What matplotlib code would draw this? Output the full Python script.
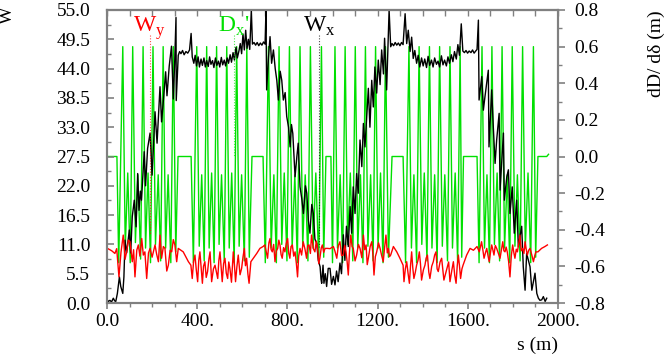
import matplotlib
matplotlib.use('Agg')
import matplotlib.pyplot as plt
from matplotlib.ticker import FixedLocator, FixedFormatter, NullFormatter

plt.rcParams['font.family'] = ['Liberation Serif', 'DejaVu Serif']
plt.rcParams['mathtext.fontset'] = 'custom'
plt.rcParams['mathtext.rm'] = 'Liberation Serif'
plt.rcParams['axes.unicode_minus'] = False

# ---- data ----
# W_x (black), left axis
s_wx = [0, 6, 13, 20, 28, 34, 39, 46, 55, 61, 70, 75, 80, 87, 99, 105, 112, 121, 129, 136,
        142, 148, 153, 165, 171, 180, 191, 200, 213, 222, 235, 242, 251, 260, 266, 276, 286, 294, 300, 306,
        307, 316, 322, 328, 335, 342, 350, 358, 366, 373, 378, 385, 391, 397, 404, 410, 417, 423, 430, 436,
        442, 449, 455, 461, 468, 474, 481, 487, 494, 500, 507, 513, 520, 526, 533, 539, 546, 552, 559, 565,
        572, 578, 585, 591, 597, 603, 609, 615, 621, 627, 633, 640, 645, 652, 659, 666, 673, 680, 687, 694,
        701, 705, 708, 716, 723, 730, 738, 746, 753, 760, 768, 775, 782, 790, 797, 805, 812, 818, 824, 834,
        842, 848, 856, 864, 871, 880, 886, 893, 900, 908, 915, 922, 930, 937, 945, 949, 952, 958, 962, 968,
        974, 981, 989, 996, 1004, 1011, 1018, 1025, 1033, 1040, 1048, 1055, 1062, 1070, 1078, 1085, 1092, 1100, 1107, 1114,
        1122, 1130, 1137, 1144, 1152, 1159, 1166, 1174, 1181, 1188, 1196, 1203, 1211, 1218, 1226, 1231, 1240, 1251, 1258, 1264,
        1271, 1278, 1285, 1292, 1299, 1306, 1313, 1322, 1329, 1336, 1344, 1351, 1358, 1365, 1373, 1380, 1387, 1395, 1402, 1409,
        1417, 1424, 1431, 1439, 1446, 1453, 1461, 1468, 1475, 1483, 1490, 1497, 1505, 1512, 1519, 1527, 1534, 1541, 1549, 1556,
        1563, 1571, 1578, 1585, 1592, 1599, 1606, 1614, 1621, 1628, 1635, 1641, 1647, 1650, 1662, 1669, 1676, 1691, 1694, 1706,
        1713, 1721, 1728, 1739, 1743, 1758, 1762, 1773, 1780, 1787, 1797, 1806, 1817, 1824, 1839, 1846, 1854, 1861, 1876, 1884,
        1898, 1906, 1913, 1920, 1928, 1935, 1943, 1950]
wx = [0.6, 0.3, 0.5, 0.2, 0.9, 0.4, 0.3, 1.8, 4.9, 3.1, 1.8, 4.9, 11.8, 9.4, 13.7, 9.4, 16.2, 19.3, 14.3, 24.3,
      17.4, 21.0, 19.3, 28.4, 22.0, 29.0, 31.9, 24.0, 35.9, 30.0, 40.6, 34.0, 38.5, 43.4, 38.9, 44.5, 48.2, 38.3, 45.0, 53.6,
      38.0, 46.5, 47.2, 46.8, 47.4, 46.6, 47.2, 46.9, 47.5, 50.6, 46.2, 45.0, 46.5, 44.5, 46.2, 44.3, 45.8, 44.6, 46.0, 44.3,
      45.5, 44.4, 46.2, 44.8, 45.5, 44.2, 46.0, 44.6, 45.4, 44.3, 46.1, 44.7, 45.6, 44.5, 46.0, 45.0, 46.6, 45.2, 47.0, 45.6,
      48.0, 46.0, 47.3, 48.7, 46.8, 50.5, 47.5, 51.2, 47.8, 49.5, 47.6, 55.0, 48.6, 48.9, 48.4, 48.9, 48.3, 48.8, 48.4, 49.0,
      48.6, 55.0, 40.0, 46.0, 50.0, 45.0, 47.5, 44.0, 41.8, 38.1, 43.5, 41.8, 38.1, 39.5, 35.0, 33.0, 29.3, 33.5, 31.8, 23.7,
      27.5, 30.0, 21.8, 19.5, 16.8, 22.0, 20.6, 15.5, 13.1, 18.5, 16.8, 12.0, 11.2, 8.0, 6.8, 4.5, 3.7, 7.1, 3.7, 5.5,
      3.1, 6.5, 6.5, 3.5, 5.0, 3.4, 6.0, 4.0, 7.5, 5.5, 12.8, 8.0, 14.4, 10.6, 18.1, 13.1, 21.8, 16.8, 24.3, 20.6,
      30.6, 25.6, 33.7, 29.3, 35.0, 40.3, 33.0, 41.8, 36.8, 44.3, 39.4, 45.6, 41.0, 47.5, 43.0, 49.7, 40.0, 55.0, 48.1, 48.7,
      48.3, 48.9, 48.4, 48.8, 48.3, 48.9, 48.5, 54.3, 48.7, 51.2, 47.2, 49.9, 45.9, 47.4, 45.0, 46.5, 44.3, 46.0, 44.5, 45.8,
      44.2, 46.3, 44.6, 45.6, 44.3, 46.0, 44.8, 45.4, 44.3, 46.4, 44.7, 45.6, 44.5, 46.2, 45.0, 46.6, 45.3, 47.2, 45.8, 48.5,
      46.5, 52.4, 47.3, 47.0, 47.4, 46.9, 47.3, 47.0, 47.5, 46.9, 47.3, 47.6, 53.1, 38.1, 42.5, 36.2, 38.7, 43.7, 29.3, 40.0,
      33.1, 26.2, 30.6, 35.6, 21.2, 31.9, 19.3, 23.7, 25.0, 16.8, 21.8, 13.1, 19.3, 10.6, 14.4, 6.8, 2.4, 9.3, 6.8, 2.4,
      5.6, 1.8, 0.9, 0.5, 0.6, 1.2, 0.3, 0.9]

# W_y (red), left axis
s_wy = [0, 21, 35, 43, 53, 62, 72, 80, 87, 95, 102, 112, 118, 124, 132, 139, 146, 154, 161, 168,
        176, 184, 191, 200, 213, 220, 228, 235, 242, 250, 257, 265, 272, 280, 287, 294, 301, 309, 316, 338,
        361, 372, 378, 384, 390, 396, 402, 407, 412, 418, 423, 428, 434, 440, 446, 452, 457, 464, 472, 479,
        485, 491, 496, 501, 506, 511, 517, 523, 529, 535, 540, 545, 552, 560, 565, 570, 576, 582, 590, 597,
        603, 609, 614, 619, 625, 630, 638, 649, 664, 678, 692, 700, 706, 712, 718, 723, 728, 733, 739, 745,
        751, 757, 762, 767, 772, 777, 783, 789, 795, 801, 806, 811, 816, 822, 828, 834, 840, 845, 850, 856,
        863, 870, 878, 885, 890, 896, 902, 907, 915, 922, 928, 934, 939, 944, 950, 955, 961, 967, 978, 989,
        1004, 1011, 1019, 1026, 1033, 1040, 1048, 1054, 1060, 1065, 1070, 1075, 1081, 1087, 1092, 1100, 1107, 1115, 1122, 1130,
        1137, 1143, 1149, 1154, 1159, 1167, 1174, 1179, 1184, 1190, 1196, 1204, 1211, 1218, 1225, 1231, 1237, 1243, 1248, 1253,
        1258, 1270, 1285, 1299, 1313, 1317, 1323, 1329, 1335, 1341, 1346, 1351, 1356, 1361, 1367, 1373, 1379, 1385, 1390, 1395,
        1403, 1410, 1415, 1421, 1427, 1432, 1440, 1447, 1453, 1459, 1464, 1469, 1477, 1484, 1489, 1494, 1502, 1509, 1515, 1521,
        1529, 1536, 1542, 1548, 1553, 1558, 1563, 1568, 1574, 1579, 1595, 1610, 1625, 1641, 1651, 1656, 1661, 1667, 1672, 1678,
        1684, 1690, 1695, 1701, 1706, 1711, 1716, 1722, 1728, 1735, 1743, 1749, 1755, 1760, 1765, 1770, 1775, 1781, 1787, 1793,
        1799, 1804, 1809, 1815, 1820, 1826, 1831, 1837, 1843, 1849, 1854, 1859, 1864, 1870, 1876, 1884, 1891, 1897, 1902, 1911,
        1927, 1942, 1953]
wy = [10.3, 9.8, 9.3, 10.2, 4.9, 9.5, 12.75, 8.2, 9.6, 11.8, 11.5, 7.75, 10.0, 4.9, 9.9, 10.9, 8.8, 12.1, 9.0, 9.6,
      4.6, 9.4, 10.25, 8.6, 10.9, 9.2, 7.75, 12.75, 8.4, 10.6, 10.25, 6.0, 7.1, 9.9, 9.6, 11.9, 10.9, 7.75, 10.25, 9.6,
      7.75, 7.1, 4.6, 7.8, 9.0, 6.2, 4.0, 8.0, 9.6, 6.5, 3.7, 6.9, 7.75, 4.8, 5.9, 8.3, 9.6, 4.0, 6.4, 7.1,
      5.8, 4.6, 8.0, 9.6, 6.8, 4.0, 7.4, 8.4, 5.6, 4.6, 7.7, 6.5, 3.9, 9.6, 7.2, 4.0, 6.8, 9.0, 5.3, 6.5,
      8.6, 10.25, 7.0, 8.4, 5.4, 3.7, 7.75, 8.4, 9.3, 10.25, 10.6, 10.9, 9.7, 8.4, 11.3, 12.1, 10.0, 9.6, 11.0, 7.75,
      9.8, 10.25, 11.8, 10.9, 9.1, 8.4, 10.4, 9.6, 11.2, 12.1, 9.3, 8.4, 10.6, 10.9, 8.8, 9.6, 7.3, 4.9, 8.8, 10.25,
      9.0, 11.5, 10.1, 8.4, 10.8, 10.9, 9.3, 12.75, 10.2, 9.6, 11.6, 10.25, 7.4, 8.4, 10.3, 10.9, 9.5, 10.25, 10.25, 10.2,
      10.6, 9.7, 8.4, 10.8, 11.5, 8.9, 9.0, 10.8, 9.6, 7.7, 5.25, 9.4, 12.75, 10.6, 10.25, 7.9, 9.0, 11.0, 10.25, 8.5,
      12.75, 10.0, 10.9, 7.2, 8.4, 10.6, 11.5, 9.2, 5.25, 8.7, 9.6, 11.3, 10.25, 8.9, 7.75, 10.4, 12.75, 9.4, 10.25, 8.7,
      9.0, 10.6, 9.6, 8.4, 7.1, 4.0, 6.4, 7.75, 5.6, 3.7, 7.0, 9.6, 6.6, 4.6, 5.7, 7.1, 8.0, 9.6, 7.4, 4.3,
      6.2, 7.1, 8.4, 9.0, 5.8, 4.6, 6.9, 7.75, 9.0, 9.6, 6.4, 5.9, 7.7, 8.4, 6.3, 4.3, 5.6, 6.8, 7.7, 4.0,
      6.1, 7.75, 5.2, 3.7, 6.9, 9.0, 7.0, 4.6, 6.4, 7.1, 9.0, 10.25, 9.9, 10.6, 9.6, 10.6, 11.5, 9.9, 8.4, 9.4,
      10.25, 8.8, 7.75, 9.6, 10.9, 10.0, 9.0, 10.8, 10.25, 9.4, 8.4, 10.0, 11.5, 9.8, 9.6, 10.5, 9.6, 7.8, 4.9, 8.9,
      10.9, 9.5, 8.4, 10.1, 9.6, 11.2, 12.75, 9.8, 10.25, 9.3, 11.5, 10.1, 9.0, 9.9, 10.25, 9.0, 7.75, 8.9, 9.6, 9.6,
      10.25, 10.6, 10.9]

# Dx' (green), right axis
s_dx = [0, 44, 52, 70, 81, 92, 103, 114, 126, 137, 149, 160, 171, 182, 193, 204, 215, 227, 238, 249,
        260, 271, 283, 294, 305, 315, 373, 383, 398, 409, 420, 431, 442, 453, 464, 475, 486, 497, 508, 520,
        531, 542, 553, 564, 575, 586, 597, 609, 620, 631, 643, 692, 702, 716, 728, 740, 751, 763, 775, 786,
        798, 809, 821, 833, 844, 856, 868, 879, 891, 902, 914, 926, 939, 951, 961, 971, 993, 1000, 1011, 1022,
        1034, 1045, 1056, 1067, 1079, 1090, 1101, 1112, 1124, 1135, 1146, 1157, 1169, 1180, 1191, 1202, 1213, 1224, 1235, 1248,
        1264, 1313, 1324, 1339, 1350, 1361, 1373, 1384, 1396, 1407, 1419, 1430, 1441, 1453, 1464, 1475, 1487, 1498, 1510, 1521,
        1532, 1544, 1555, 1566, 1573, 1581, 1641, 1650, 1663, 1674, 1685, 1696, 1707, 1718, 1730, 1741, 1752, 1763, 1775, 1786,
        1797, 1809, 1820, 1832, 1843, 1855, 1867, 1879, 1891, 1901, 1911, 1950, 1958]
dx = [0.0, 0.0, -0.58, 0.60, -0.50, -0.09, -0.58, 0.60, -0.47, -0.10, -0.56, 0.60, -0.50, -0.09, -0.58, 0.60, -0.48, -0.10, -0.57, 0.60,
      -0.50, -0.10, -0.58, 0.60, -0.52, 0.0, 0.0, -0.58, 0.60, -0.49, -0.10, -0.57, 0.60, -0.50, -0.09, -0.58, 0.60, -0.48, -0.10, -0.57,
      0.60, -0.50, -0.09, -0.58, 0.60, -0.49, -0.10, -0.57, 0.60, -0.55, 0.0, 0.0, -0.58, 0.60, -0.50, -0.10, -0.58, 0.60, -0.48, -0.09,
      -0.57, 0.60, -0.50, -0.10, -0.58, 0.60, -0.49, -0.10, -0.57, 0.60, -0.50, -0.09, -0.58, 0.60, -0.55, 0.0, 0.0, -0.58, 0.60, -0.50,
      -0.10, -0.58, 0.60, -0.48, -0.09, -0.57, 0.60, -0.50, -0.10, -0.58, 0.60, -0.49, -0.10, -0.57, 0.60, -0.50, -0.09, -0.58, 0.60, -0.55,
      0.0, 0.0, -0.58, 0.60, -0.50, -0.10, -0.58, 0.60, -0.48, -0.09, -0.57, 0.60, -0.50, -0.10, -0.58, 0.60, -0.49, -0.10, -0.57, 0.60,
      -0.50, -0.09, -0.58, 0.60, -0.55, 0.0, 0.0, -0.58, 0.60, -0.50, -0.10, -0.58, 0.60, -0.48, -0.09, -0.57, 0.60, -0.50, -0.10, -0.58,
      0.60, -0.49, -0.10, -0.57, 0.60, -0.50, -0.09, -0.58, 0.60, -0.55, 0.0, 0.0, 0.012]

# curve labels: text, s position, colour, bottom of the dotted pointer (left-axis units)
curve_labels = [(r'$\mathrm{W}_\mathrm{y}$', 190, 'red', 13.0),
                (r"D$_\mathrm{x}$'", 563, '#00e000', 27.5),
                (r'$\mathrm{W}_\mathrm{x}$', 941, 'black', 10.5)]

w_ticks = [0.0, 5.5, 11.0, 16.5, 22.0, 27.5, 33.0, 38.5, 44.0, 49.5, 55.0]
w_ticklabels = ['0.0', '5.5', '11.0', '16.5', '22.0', '27.5', '33.0', '38.5', '44.0', '49.5', '55.0']
s_ticks = [0, 400, 800, 1200, 1600, 2000]
s_ticklabels = ['0.0', '400.', '800.', '1200.', '1600.', '2000.']
d_ticks = [-0.8, -0.6, -0.4, -0.2, 0.0, 0.2, 0.4, 0.6, 0.8]
d_ticklabels = ['-0.8', '-0.6', '-0.4', '-0.2', '0.0', '0.2', '0.4', '0.6', '0.8']

GRAY = '#808080'
GREEN = '#00e000'

fig = plt.figure(figsize=(6.66, 3.55), dpi=100)
ax1 = fig.add_axes([107/666, 1 - 303/355, 451/666, 293/355])
ax2 = ax1.twinx()
ax1.set_zorder(ax2.get_zorder() + 1)
ax1.patch.set_visible(False)

ax2.plot(s_dx, dx, color=GREEN, lw=1.0)
ax1.plot(s_wx, wx, color='black', lw=1.0)
ax1.plot(s_wy, wy, color='red', lw=1.0)

ax1.set_xlim(0, 2000)
ax1.set_ylim(0, 55)
ax2.set_ylim(-0.8, 0.8)

for ax in (ax1, ax2):
    for sp in ax.spines.values():
        sp.set_color(GRAY)
        sp.set_linewidth(1.5)

# left axis: inward ticks
ax1.yaxis.set_major_locator(FixedLocator(w_ticks))
ax1.yaxis.set_major_formatter(FixedFormatter(w_ticklabels))
ax1.yaxis.set_minor_locator(FixedLocator([t + 2.75 for t in w_ticks[:-1]]))
ax1.tick_params(axis='y', which='major', direction='in', length=5, width=1.2, color=GRAY,
                pad=12, labelsize=14)
ax1.tick_params(axis='y', which='minor', direction='in', length=3, width=1.0, color=GRAY)

# bottom axis: outward ticks
ax1.xaxis.set_major_locator(FixedLocator(s_ticks))
ax1.xaxis.set_major_formatter(FixedFormatter(s_ticklabels))
ax1.xaxis.set_minor_locator(FixedLocator(list(range(100, 2000, 100))))
ax1.tick_params(axis='x', which='major', direction='out', length=4, width=1.2, color=GRAY,
                pad=3, labelsize=14, top=False)
ax1.tick_params(axis='x', which='minor', direction='out', length=3, width=1.0, color=GRAY, top=False)

# top axis: inward ticks on a separate secondary axis
top = ax1.secondary_xaxis('top')
top.xaxis.set_major_locator(FixedLocator(list(range(0, 2100, 100))))
top.xaxis.set_major_formatter(NullFormatter())
top.tick_params(axis='x', direction='in', length=4, width=1.0, color=GRAY)
top.spines['top'].set_color(GRAY)
top.spines['top'].set_linewidth(1.5)

# right axis: outward ticks
ax2.yaxis.set_major_locator(FixedLocator(d_ticks))
ax2.yaxis.set_major_formatter(FixedFormatter(d_ticklabels))
ax2.yaxis.set_minor_locator(FixedLocator([t + 0.1 for t in d_ticks[:-1]]))
ax2.tick_params(axis='y', which='major', direction='out', length=5, width=1.2, color=GRAY,
                pad=7, labelsize=14)
ax2.tick_params(axis='y', which='minor', direction='out', length=3, width=1.0, color=GRAY)

# curve labels with dotted pointers
for text, s, col, ybot in curve_labels:
    ax1.text(s, 50.9, text, color=col, fontsize=17, ha='center', va='baseline')
    ax1.plot([s + 1, s + 1], [50.3, ybot], color=col, lw=0.8, ls=(0, (1, 1.5)), alpha=0.7)

fig.text(0.0105, 0.958, 'W', rotation=90, ha='center', va='center', fontsize=13.5)
fig.text(0.985, 0.85, 'dD/ dδ (m)', rotation=90, ha='center', va='center', fontsize=14)
fig.text(558/666, 0.028, 's (m)', ha='right', va='center', fontsize=14)

fig.savefig('out.png', dpi=100)
